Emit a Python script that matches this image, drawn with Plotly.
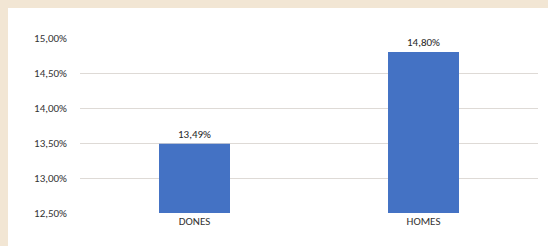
import plotly.graph_objects as go

categories = ["DONES", "HOMES"]
values = [13.49, 14.80]
labels = ["13,49%", "14,80%"]
axis_min = 12.5
tick_vals = [12.5, 13.0, 13.5, 14.0, 14.5, 15.0]
tick_text = ["12,50%", "13,00%", "13,50%", "14,00%", "14,50%", "15,00%"]

fig = go.Figure()
fig.add_trace(go.Bar(
    x=categories, y=[v - axis_min for v in values],
    base=axis_min,
    marker=dict(color="#4472c4", line=dict(width=0)),
    text=labels, textposition="outside", cliponaxis=False,
    textfont=dict(family="Carlito, Liberation Sans, Arial", size=11, color="#262626"),
    width=0.31,
    hoverinfo="skip",
))

fig.update_layout(
    width=548, height=246,
    margin=dict(l=80, r=10, t=38, b=33),
    paper_bgcolor="#f2e6d4",
    plot_bgcolor="white",
    showlegend=False,
    font=dict(family="Carlito, Liberation Sans, Arial", size=11, color="#333333"),
    shapes=[dict(type="rect", xref="paper", yref="paper", layer="below",
                 x0=-72/458, x1=1.05, y0=-1.0, y1=1 + 30/175,
                 fillcolor="white", line=dict(width=0))],
    xaxis=dict(showgrid=False, showline=False, ticks="", tickfont=dict(size=11, color="#333333")),
    yaxis=dict(range=[12.5, 15.0], tickvals=tick_vals, ticktext=tick_text,
               showgrid=True, gridcolor="#dedad6", gridwidth=1,
               zeroline=False, showline=False, ticks="",
               ticklabelstandoff=12, tickfont=dict(size=11, color="#333333")),
)
fig.write_html("out.html", config={"displayModeBar": False},
               post_script="document.body.style.margin='0';document.body.style.background='#f2e6d4';")
